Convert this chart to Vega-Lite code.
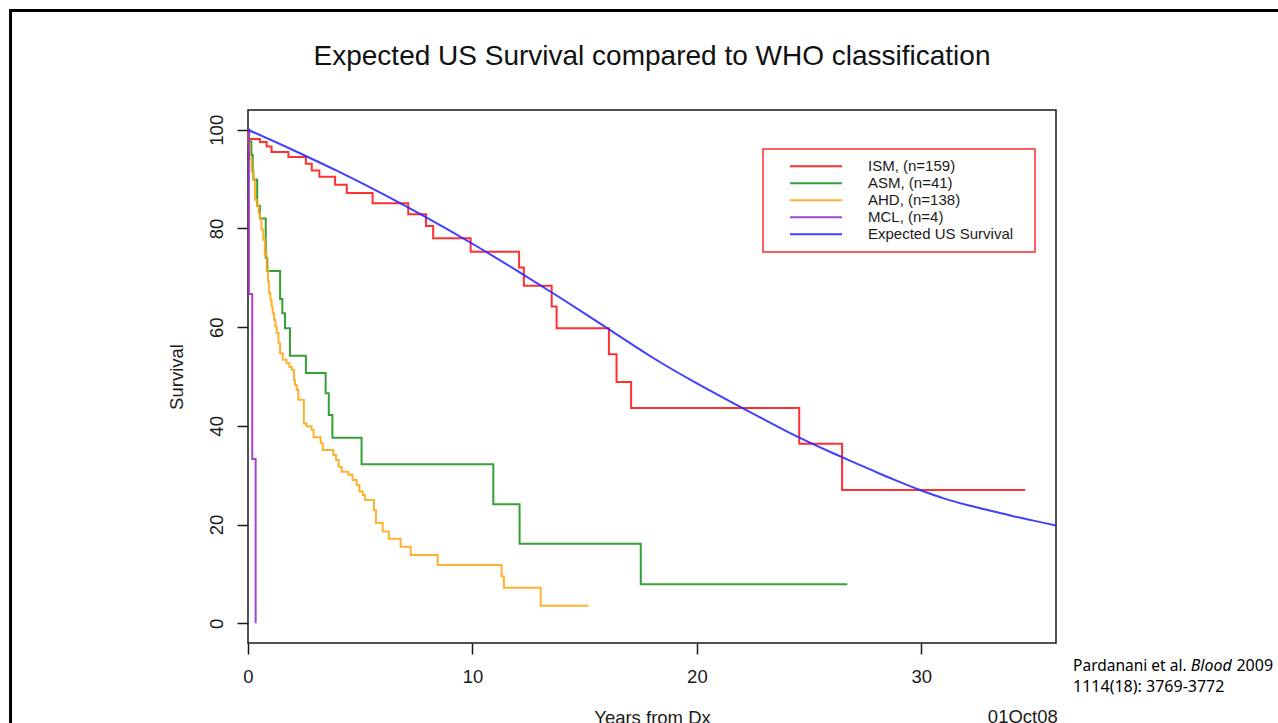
{
  "$schema": "https://vega.github.io/schema/vega-lite/v6.json",
  "width": 808,
  "height": 533,
  "autosize": "none",
  "padding": {"left": 248, "top": 110, "right": 222, "bottom": 80},
  "background": "white",
  "title": {
    "text": "Expected US Survival compared to WHO classification",
    "font": "Liberation Sans",
    "fontSize": 28,
    "fontWeight": "normal",
    "color": "#111111",
    "anchor": "middle",
    "baseline": "alphabetic",
    "offset": -84
  },
  "datasets": {
    "km": [
      {"series": "ISM, (n=159)", "t": 0, "s": 100},
      {"series": "ISM, (n=159)", "t": 0.05, "s": 98.1},
      {"series": "ISM, (n=159)", "t": 0.53, "s": 97.5},
      {"series": "ISM, (n=159)", "t": 0.83, "s": 96.6},
      {"series": "ISM, (n=159)", "t": 1.05, "s": 95.5},
      {"series": "ISM, (n=159)", "t": 1.8, "s": 94.5},
      {"series": "ISM, (n=159)", "t": 2.58, "s": 93.1},
      {"series": "ISM, (n=159)", "t": 2.84, "s": 91.75},
      {"series": "ISM, (n=159)", "t": 3.18, "s": 90.5},
      {"series": "ISM, (n=159)", "t": 3.88, "s": 88.85},
      {"series": "ISM, (n=159)", "t": 4.4, "s": 87.2},
      {"series": "ISM, (n=159)", "t": 5.55, "s": 85.1},
      {"series": "ISM, (n=159)", "t": 7.14, "s": 82.9},
      {"series": "ISM, (n=159)", "t": 7.93, "s": 80.5},
      {"series": "ISM, (n=159)", "t": 8.25, "s": 78.0},
      {"series": "ISM, (n=159)", "t": 9.92, "s": 75.3},
      {"series": "ISM, (n=159)", "t": 12.08, "s": 72.1},
      {"series": "ISM, (n=159)", "t": 12.29, "s": 68.4},
      {"series": "ISM, (n=159)", "t": 13.53, "s": 64.2},
      {"series": "ISM, (n=159)", "t": 13.75, "s": 59.8},
      {"series": "ISM, (n=159)", "t": 16.08, "s": 54.5},
      {"series": "ISM, (n=159)", "t": 16.42, "s": 48.9},
      {"series": "ISM, (n=159)", "t": 17.07, "s": 43.6},
      {"series": "ISM, (n=159)", "t": 24.56, "s": 36.35},
      {"series": "ISM, (n=159)", "t": 26.47, "s": 27.0},
      {"series": "ISM, (n=159)", "t": 34.63, "s": 27.0},
      {"series": "ASM, (n=41)", "t": 0, "s": 100},
      {"series": "ASM, (n=41)", "t": 0.05, "s": 97.6},
      {"series": "ASM, (n=41)", "t": 0.15, "s": 94.9},
      {"series": "ASM, (n=41)", "t": 0.21, "s": 91.5},
      {"series": "ASM, (n=41)", "t": 0.24, "s": 89.9},
      {"series": "ASM, (n=41)", "t": 0.41, "s": 84.6},
      {"series": "ASM, (n=41)", "t": 0.53, "s": 82.0},
      {"series": "ASM, (n=41)", "t": 0.79, "s": 74.0},
      {"series": "ASM, (n=41)", "t": 0.86, "s": 71.4},
      {"series": "ASM, (n=41)", "t": 1.43, "s": 65.7},
      {"series": "ASM, (n=41)", "t": 1.53, "s": 62.8},
      {"series": "ASM, (n=41)", "t": 1.65, "s": 59.8},
      {"series": "ASM, (n=41)", "t": 1.87, "s": 54.2},
      {"series": "ASM, (n=41)", "t": 2.58, "s": 50.7},
      {"series": "ASM, (n=41)", "t": 3.46, "s": 46.6},
      {"series": "ASM, (n=41)", "t": 3.6, "s": 42.2},
      {"series": "ASM, (n=41)", "t": 3.76, "s": 37.6},
      {"series": "ASM, (n=41)", "t": 5.06, "s": 32.2},
      {"series": "ASM, (n=41)", "t": 10.93, "s": 24.1},
      {"series": "ASM, (n=41)", "t": 12.1, "s": 16.1},
      {"series": "ASM, (n=41)", "t": 17.5, "s": 7.9},
      {"series": "ASM, (n=41)", "t": 26.7, "s": 7.9},
      {"series": "AHD, (n=138)", "t": 0, "s": 100},
      {"series": "AHD, (n=138)", "t": 0.03, "s": 97.0},
      {"series": "AHD, (n=138)", "t": 0.08, "s": 94.0},
      {"series": "AHD, (n=138)", "t": 0.16, "s": 91.5},
      {"series": "AHD, (n=138)", "t": 0.24, "s": 89.9},
      {"series": "AHD, (n=138)", "t": 0.31, "s": 85.8},
      {"series": "AHD, (n=138)", "t": 0.41, "s": 84.6},
      {"series": "AHD, (n=138)", "t": 0.47, "s": 83.2},
      {"series": "AHD, (n=138)", "t": 0.53, "s": 81.8},
      {"series": "AHD, (n=138)", "t": 0.6, "s": 79.8},
      {"series": "AHD, (n=138)", "t": 0.68, "s": 77.7},
      {"series": "AHD, (n=138)", "t": 0.75, "s": 74.6},
      {"series": "AHD, (n=138)", "t": 0.83, "s": 71.6},
      {"series": "AHD, (n=138)", "t": 0.89, "s": 69.2},
      {"series": "AHD, (n=138)", "t": 0.94, "s": 66.9},
      {"series": "AHD, (n=138)", "t": 1.0, "s": 65.5},
      {"series": "AHD, (n=138)", "t": 1.05, "s": 64.2},
      {"series": "AHD, (n=138)", "t": 1.1, "s": 62.8},
      {"series": "AHD, (n=138)", "t": 1.16, "s": 61.5},
      {"series": "AHD, (n=138)", "t": 1.22, "s": 60.1},
      {"series": "AHD, (n=138)", "t": 1.28, "s": 58.8},
      {"series": "AHD, (n=138)", "t": 1.36, "s": 56.7},
      {"series": "AHD, (n=138)", "t": 1.43, "s": 54.7},
      {"series": "AHD, (n=138)", "t": 1.55, "s": 53.4},
      {"series": "AHD, (n=138)", "t": 1.72, "s": 52.7},
      {"series": "AHD, (n=138)", "t": 1.85, "s": 51.9},
      {"series": "AHD, (n=138)", "t": 1.95, "s": 51.3},
      {"series": "AHD, (n=138)", "t": 2.05, "s": 49.3},
      {"series": "AHD, (n=138)", "t": 2.09, "s": 48.3},
      {"series": "AHD, (n=138)", "t": 2.17, "s": 47.3},
      {"series": "AHD, (n=138)", "t": 2.24, "s": 45.3},
      {"series": "AHD, (n=138)", "t": 2.49, "s": 40.5},
      {"series": "AHD, (n=138)", "t": 2.61, "s": 39.9},
      {"series": "AHD, (n=138)", "t": 2.83, "s": 39.2},
      {"series": "AHD, (n=138)", "t": 2.92, "s": 37.7},
      {"series": "AHD, (n=138)", "t": 3.24, "s": 36.5},
      {"series": "AHD, (n=138)", "t": 3.33, "s": 35.1},
      {"series": "AHD, (n=138)", "t": 3.8, "s": 34.1},
      {"series": "AHD, (n=138)", "t": 3.92, "s": 33.1},
      {"series": "AHD, (n=138)", "t": 4.04, "s": 31.7},
      {"series": "AHD, (n=138)", "t": 4.17, "s": 30.7},
      {"series": "AHD, (n=138)", "t": 4.47, "s": 30.1},
      {"series": "AHD, (n=138)", "t": 4.66, "s": 29.05},
      {"series": "AHD, (n=138)", "t": 4.84, "s": 28.0},
      {"series": "AHD, (n=138)", "t": 4.96, "s": 26.7},
      {"series": "AHD, (n=138)", "t": 5.11, "s": 26.0},
      {"series": "AHD, (n=138)", "t": 5.21, "s": 25.0},
      {"series": "AHD, (n=138)", "t": 5.61, "s": 22.97},
      {"series": "AHD, (n=138)", "t": 5.7, "s": 20.3},
      {"series": "AHD, (n=138)", "t": 6.0, "s": 18.6},
      {"series": "AHD, (n=138)", "t": 6.27, "s": 17.1},
      {"series": "AHD, (n=138)", "t": 6.8, "s": 15.5},
      {"series": "AHD, (n=138)", "t": 7.25, "s": 13.85},
      {"series": "AHD, (n=138)", "t": 8.45, "s": 11.8},
      {"series": "AHD, (n=138)", "t": 11.3, "s": 9.45},
      {"series": "AHD, (n=138)", "t": 11.4, "s": 7.2},
      {"series": "AHD, (n=138)", "t": 13.04, "s": 3.57},
      {"series": "AHD, (n=138)", "t": 15.17, "s": 3.57},
      {"series": "MCL, (n=4)", "t": 0, "s": 100},
      {"series": "MCL, (n=4)", "t": 0.04, "s": 66.7},
      {"series": "MCL, (n=4)", "t": 0.19, "s": 33.3},
      {"series": "MCL, (n=4)", "t": 0.34, "s": 0}
    ],
    "expected": [
      {"series": "Expected US Survival", "t": 0, "s": 100},
      {"series": "Expected US Survival", "t": 2, "s": 95.9},
      {"series": "Expected US Survival", "t": 4, "s": 91.6},
      {"series": "Expected US Survival", "t": 6, "s": 87.0},
      {"series": "Expected US Survival", "t": 8, "s": 82.1},
      {"series": "Expected US Survival", "t": 10, "s": 76.9},
      {"series": "Expected US Survival", "t": 12, "s": 71.4},
      {"series": "Expected US Survival", "t": 14, "s": 65.7},
      {"series": "Expected US Survival", "t": 16, "s": 59.8},
      {"series": "Expected US Survival", "t": 18, "s": 53.9},
      {"series": "Expected US Survival", "t": 20, "s": 48.6},
      {"series": "Expected US Survival", "t": 22, "s": 43.7},
      {"series": "Expected US Survival", "t": 24, "s": 38.9},
      {"series": "Expected US Survival", "t": 26, "s": 34.6},
      {"series": "Expected US Survival", "t": 27, "s": 32.6},
      {"series": "Expected US Survival", "t": 28, "s": 30.6},
      {"series": "Expected US Survival", "t": 29, "s": 28.7},
      {"series": "Expected US Survival", "t": 30, "s": 26.9},
      {"series": "Expected US Survival", "t": 31, "s": 25.3},
      {"series": "Expected US Survival", "t": 32, "s": 24.0},
      {"series": "Expected US Survival", "t": 33, "s": 22.9},
      {"series": "Expected US Survival", "t": 34, "s": 21.8},
      {"series": "Expected US Survival", "t": 35, "s": 20.8},
      {"series": "Expected US Survival", "t": 36, "s": 19.8}
    ],
    "notes": [
      {"label": "01Oct08"},
      {"label": "Pardanani et al."},
      {"label": "Blood"},
      {"label": "2009"},
      {"label": "1114(18): 3769-3772"},
      {"label": "frame"}
    ]
  },
  "layer": [
    {
      "data": {"name": "km"},
      "mark": {"type": "line", "interpolate": "step-after", "strokeWidth": 2, "opacity": 0.9},
      "encoding": {
        "x": {
          "field": "t", "type": "quantitative",
          "scale": {"domain": [0, 36], "nice": false, "zero": false},
          "axis": {"values": [0, 10, 20, 30], "title": "Years from Dx", "labelPadding": 13.4, "titlePadding": 22.7}
        },
        "y": {
          "field": "s", "type": "quantitative",
          "scale": {"domain": [-4, 104], "nice": false, "zero": false},
          "axis": {"values": [0, 20, 40, 60, 80, 100], "title": "Survival", "labelAngle": 270, "labelAlign": "center", "labelBaseline": "bottom", "labelPadding": 11, "titlePadding": 20.3}
        },
        "color": {
          "field": "series", "type": "nominal",
          "scale": {
            "domain": ["ISM, (n=159)", "ASM, (n=41)", "AHD, (n=138)", "MCL, (n=4)", "Expected US Survival"],
            "range": ["#ff1a1a", "#1f961f", "#ffaa1a", "#9b2fc4", "#2b2bff"]
          },
          "legend": {"title": null, "labelExpr": "datum.label + '\u00a0\u00a0\u00a0\u200b'"}
        },
        "order": {"field": "t", "type": "quantitative"}
      }
    },
    {
      "data": {"name": "expected"},
      "mark": {"type": "line", "interpolate": "monotone", "strokeWidth": 2, "opacity": 0.9},
      "encoding": {
        "x": {"field": "t", "type": "quantitative", "scale": {"domain": [0, 36], "nice": false, "zero": false}},
        "y": {"field": "s", "type": "quantitative", "scale": {"domain": [-4, 104], "nice": false, "zero": false}},
        "color": {"field": "series", "type": "nominal"},
        "order": {"field": "t", "type": "quantitative"}
      }
    },
    {
      "data": {"name": "notes"},
      "transform": [{"filter": "datum.label === 'frame'"}],
      "mark": {"type": "rect", "filled": false, "stroke": "#000000", "strokeWidth": 3},
      "encoding": {
        "x": {"datum": -10.58, "type": "quantitative"},
        "x2": {"datum": 46.9},
        "y": {"datum": 124.16, "type": "quantitative"},
        "y2": {"datum": -23.65}
      }
    },
    {
      "data": {"name": "notes"},
      "transform": [{"filter": "datum.label === '01Oct08'"}],
      "mark": {"type": "text", "align": "right", "baseline": "alphabetic", "font": "Liberation Sans", "fontSize": 18.5, "color": "#1a1a1a"},
      "encoding": {
        "x": {"datum": 36.08, "type": "quantitative"},
        "y": {"datum": -20.27, "type": "quantitative"},
        "text": {"field": "label"}
      }
    },
    {
      "data": {"name": "notes"},
      "transform": [{"filter": "datum.label === 'Pardanani et al.'"}],
      "mark": {"type": "text", "align": "left", "baseline": "alphabetic", "font": "Noto Sans", "fontSize": 15.5, "color": "#000000"},
      "encoding": {
        "x": {"datum": 36.76, "type": "quantitative"},
        "y": {"datum": -9.61, "type": "quantitative"},
        "text": {"field": "label"}
      }
    },
    {
      "data": {"name": "notes"},
      "transform": [{"filter": "datum.label === 'Blood'"}],
      "mark": {"type": "text", "align": "left", "baseline": "alphabetic", "font": "Noto Sans", "fontSize": 16, "fontStyle": "italic", "color": "#000000"},
      "encoding": {
        "x": {"datum": 42.0, "type": "quantitative"},
        "y": {"datum": -9.61, "type": "quantitative"},
        "text": {"field": "label"}
      }
    },
    {
      "data": {"name": "notes"},
      "transform": [{"filter": "datum.label === '2009'"}],
      "mark": {"type": "text", "align": "left", "baseline": "alphabetic", "font": "Noto Sans", "fontSize": 16, "color": "#000000"},
      "encoding": {
        "x": {"datum": 44.04, "type": "quantitative"},
        "y": {"datum": -9.61, "type": "quantitative"},
        "text": {"field": "label"}
      }
    },
    {
      "data": {"name": "notes"},
      "transform": [{"filter": "datum.label === '1114(18): 3769-3772'"}],
      "mark": {"type": "text", "align": "left", "baseline": "alphabetic", "font": "Noto Sans", "fontSize": 16, "color": "#000000"},
      "encoding": {
        "x": {"datum": 36.76, "type": "quantitative"},
        "y": {"datum": -13.99, "type": "quantitative"},
        "text": {"field": "label"}
      }
    }
  ],
  "config": {
    "view": {"stroke": "#1a1a1a", "strokeWidth": 1.5},
    "axis": {
      "grid": false,
      "domain": false,
      "tickColor": "#1a1a1a",
      "tickWidth": 1.5,
      "tickSize": 11,
      "labelFont": "Liberation Sans",
      "labelFontSize": 18.5,
      "labelColor": "#1a1a1a",
      "labelFlush": false,
      "labelOverlap": false,
      "titleFont": "Liberation Sans",
      "titleFontSize": 18.5,
      "titleFontWeight": "normal",
      "titleColor": "#1a1a1a"
    },
    "legend": {
      "orient": "none",
      "legendX": 515,
      "legendY": 39,
      "padding": 9,
      "strokeColor": "#ff2a2a",
      "strokeWidth": 1.5,
      "symbolType": "stroke",
      "symbolSize": 2704,
      "symbolStrokeWidth": 2,
      "symbolOffset": 17,
      "labelOffset": 25,
      "clipHeight": 16.25,
      "rowPadding": 0,
      "labelFont": "Liberation Sans",
      "labelFontSize": 15,
      "labelColor": "#1a1a1a",
      "labelLimit": 400
    }
  }
}
